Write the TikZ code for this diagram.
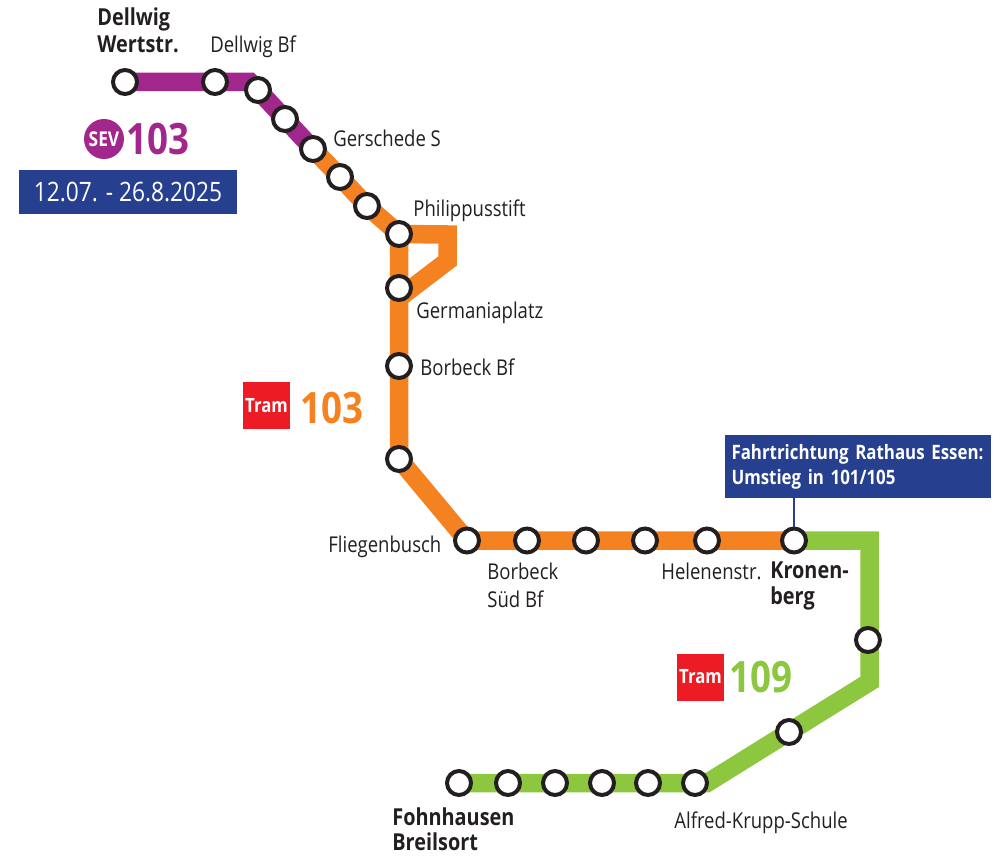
\documentclass[tikz,border=0pt]{standalone}
\usepackage{fontspec}
\setmainfont[FakeStretch=0.85,BoldFeatures={FakeStretch=0.85}]{Open Sans}
\usetikzlibrary{backgrounds}
\definecolor{sevpurple}{HTML}{A1278D}
\definecolor{traforange}{HTML}{F58220}
\definecolor{tramgreen}{HTML}{8DC63F}
\definecolor{infoblue}{HTML}{26408F}
\definecolor{tramred}{HTML}{ED1C24}
\definecolor{inkblack}{HTML}{231F20}
\tikzset{
    station/.style={circle,draw=inkblack,line width=0.08cm,fill=white,minimum size=0.48cm,inner sep=0pt},
    route/.style={line width=0.37cm,line join=miter},
    stoptext/.style={text=inkblack,font=\fontsize{12.4}{15.9}\selectfont,anchor=base west,inner sep=0pt,align=left},
    majortext/.style={stoptext,font=\fontsize{13.3}{15.6}\selectfont\bfseries},
    tramsign/.style={fill=tramred,text=white,minimum size=0.94cm,inner sep=0pt,font=\fontsize{11.2}{12}\selectfont\bfseries},
    infobox/.style={fill=infoblue,text=white,inner sep=0pt},
    bignum/.style={anchor=base west,inner sep=0pt,font=\fontsize{24.6}{30}\selectfont\bfseries}
}
\begin{document}
\begin{tikzpicture}
    \useasboundingbox (0,0) rectangle (20.06,17.22);
    % stations
    \node[station] (wertstr) at (2.50,15.58) {};
    \node[station] (dellwig) at (4.30,15.58) {};
    \node[station] (stopa) at (5.16,15.42) {};
    \node[station] (stopb) at (5.70,14.84) {};
    \node[station] (gerschede) at (6.26,14.24) {};
    \node[station] (stopc) at (6.80,13.68) {};
    \node[station] (stopd) at (7.34,13.10) {};
    \node[station] (philippus) at (7.98,12.54) {};
    \node[station] (germania) at (7.98,11.46) {};
    \node[station] (borbeck) at (7.98,9.90) {};
    \node[station] (stope) at (7.98,8.04) {};
    \node[station] (fliegen) at (9.34,6.41) {};
    \node[station] (suedbf) at (10.54,6.41) {};
    \node[station] (stopf) at (11.72,6.41) {};
    \node[station] (stopg) at (12.90,6.41) {};
    \node[station] (helene) at (14.14,6.41) {};
    \node[station] (kronen) at (15.88,6.41) {};
    \node[station] (stoph) at (17.36,4.42) {};
    \node[station] (stopi) at (15.78,2.58) {};
    \node[station] (krupp) at (13.90,1.56) {};
    \node[station] (stopj) at (12.96,1.56) {};
    \node[station] (stopk) at (12.04,1.56) {};
    \node[station] (stopl) at (11.10,1.56) {};
    \node[station] (stopm) at (10.16,1.56) {};
    \node[station] (fohn) at (9.18,1.56) {};
    % bends
    \coordinate (bendsev) at (5.00,15.58);
    \coordinate (loopa) at (8.95,12.53);
    \coordinate (loopb) at (8.95,12.00);
    \coordinate (loopc) at (7.98,11.26);
    \coordinate (bendtop) at (17.39,6.41);
    \coordinate (bendright) at (17.39,3.58);
    \coordinate (bendlow) at (14.14,1.56);
    % routes
    \begin{scope}[on background layer]
        \draw[route,traforange] (gerschede.center) -- (stopc.center) -- (stopd.center) -- (philippus.center) -- (germania.center) -- (borbeck.center) -- (stope.center) -- (fliegen.center) -- (kronen.center);
        \draw[route,traforange] (philippus.center) -- (loopa) -- (loopb) -- (loopc);
        \draw[route,sevpurple] (wertstr.center) -- (bendsev) -- (stopa.center) -- (stopb.center) -- (gerschede.center);
        \draw[route,tramgreen] (kronen.center) -- (bendtop) -- (bendright) -- (stopi.center) -- (bendlow) -- (fohn.center);
    \end{scope}
    % stop names
    \node[majortext] (wertstrtext) at (1.94,16.16) {Dellwig\\Wertstr.};
    \node[stoptext] (dellwigtext) at (4.20,16.16) {Dellwig Bf};
    \node[stoptext] (gerschedetext) at (6.66,14.28) {Gerschede S};
    \node[stoptext] (philippustext) at (8.26,12.88) {Philippusstift};
    \node[stoptext] (germaniatext) at (8.32,10.86) {Germaniaplatz};
    \node[stoptext] (borbecktext) at (8.40,9.72) {Borbeck Bf};
    \node[stoptext] (fliegentext) at (6.56,6.18) {Fliegenbusch};
    \node[stoptext] (suedbftext) at (9.74,5.08) {Borbeck\\Süd Bf};
    \node[stoptext] (helenetext) at (13.22,5.64) {Helenenstr.};
    \node[majortext] (kronentext) at (15.40,5.14) {Kronen-\\[-1pt]berg};
    \node[stoptext] (krupptext) at (13.48,0.66) {Alfred-Krupp-Schule};
    \node[majortext] (fohntext) at (7.84,0.22) {Fohnhausen\\[-1.6pt]Breilsort};
    % line signs
    \node[circle,fill=sevpurple,text=white,minimum size=0.80cm,inner sep=0pt,font=\fontsize{11.6}{12}\selectfont\bfseries] (sevsign) at (2.08,14.44) {SEV};
    \node[bignum,text=sevpurple] (sevnum) at (2.52,14.12) {103};
    \node[infobox,minimum width=4.36cm,minimum height=0.88cm,font=\fontsize{15.2}{17}\selectfont] (datebox) at (2.56,13.38) {12.07. - 26.8.2025};
    \node[tramsign] (tramorange) at (5.33,9.11) {Tram};
    \node[bignum,text=traforange] (orangenum) at (6.00,8.76) {103};
    \node[tramsign] (tramlow) at (14.01,3.68) {Tram};
    \node[bignum,text=tramgreen] (greennum) at (14.58,3.38) {109};
    % note on direction
    \node[infobox,minimum width=5.32cm,minimum height=1.26cm,text width=5.06cm,align=left,font=\fontsize{11.3}{14.4}\selectfont\bfseries] (notebox) at (17.16,7.89) {Fahrtrichtung Rathaus Essen:\\Umstieg in 101/105};
    \draw[infoblue,line width=0.04cm] (kronen) -- (kronen |- notebox.south);
\end{tikzpicture}
\end{document}
